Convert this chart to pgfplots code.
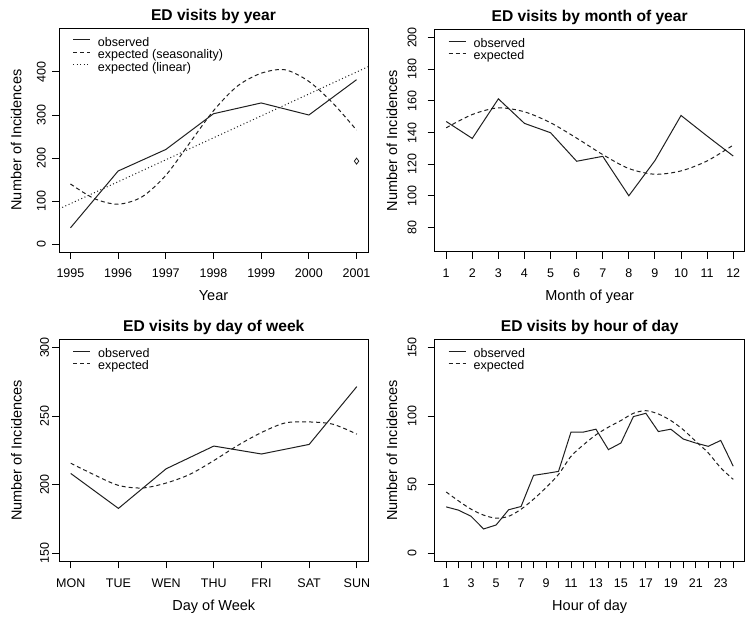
\documentclass[border=0pt]{standalone}
\usepackage{pgfplots}
\pgfplotsset{compat=1.18}
\usepackage{fontspec}
\setmainfont{Liberation Sans}
\newcommand\tickfont{\fontsize{12.5}{14}\selectfont}
\newcommand\labfont{\fontsize{14.5}{17}\selectfont}
\newcommand\titfont{\fontsize{15.6}{18}\selectfont\bfseries}
\newcommand\legfont{\fontsize{12.5}{14}\selectfont}
\pgfplotsset{
  rplot/.style={
    scale only axis,
    anchor=south west,
    every axis plot/.append style={line width=1pt, black!88},
    axis line style={line width=0.9pt, black},
    tick style={line width=0.9pt, black},
    tick align=outside, major tick length=7pt,
    tick pos=left,
    minor tick num=0,
    scaled ticks=false,
    /pgf/number format/assume math mode=true,
    /pgf/number format/1000 sep={},
    ticklabel style={font=\tickfont},
    xticklabel style={anchor=base, inner sep=0pt, yshift=-19pt},
    every axis x label/.style={at={(axis description cs:0.5,0)}, anchor=base, yshift=-48.7pt, font=\labfont},
    every axis y label/.style={at={(axis description cs:0,0.5)}, xshift=-37.7pt, rotate=90, anchor=base, font=\labfont},
    every axis title/.style={at={(axis description cs:0.5,1)}, anchor=base, yshift=7.5pt, font=\titfont},
    legend style={draw=none, fill=none, at={(axis description cs:0,1)}, anchor=north west, xshift=13.5pt, yshift=-9pt, font=\legfont, inner sep=0pt, outer sep=0pt, row sep=0pt, nodes={inner sep=0pt, text height=9pt, text depth=3.5pt}},
    legend cell align=left,
    legend image code/.code={\draw[##1] (0pt,3.3pt) -- (17pt,3.3pt); \path (24.4pt,3.3pt);},
  },
  dashr/.style={dash pattern=on 4pt off 3pt},
  dotr/.style={dash pattern=on 1pt off 2.5pt},
}
\begin{document}
\begin{tikzpicture}
\useasboundingbox (0,0) rectangle (754pt,624pt);
% ---------------- top left
\begin{axis}[rplot, at={(59pt,372pt)}, width=309pt, height=224pt,
  xmin=1994.76, xmax=2001.24, ymin=-18, ymax=502,
  xtick={1995,...,2001}, ytick={0,100,...,400},
  yticklabel style={xshift=-6.5pt, rotate=90, anchor=base, inner sep=0pt},
  title={ED visits by year}, xlabel={Year}, ylabel={Number of Incidences}]
\addplot[sharp plot] coordinates {(1995,38) (1996,170) (1997,220) (1998,303) (1999,328) (2000,300) (2001,382)};
\addlegendentry{observed}
\addplot[smooth, dashr] coordinates {(1995,140) (1995.5,106) (1996,93) (1996.5,110) (1997,160) (1997.5,235) (1998,310) (1998.5,367) (1999,397) (1999.5,405) (2000,378) (2000.5,328) (2001,265)};
\addlegendentry{expected (seasonality)}
\addplot[sharp plot, dotr] coordinates {(1994.76,82) (2001.24,412)};
\addlegendentry{expected (linear)}
\addplot[only marks, mark=diamond, mark size=3pt, mark options={solid, line width=0.8pt}, forget plot] coordinates {(2001,193)};
\end{axis}
% ---------------- top right
\begin{axis}[rplot, at={(434.7pt,372.3pt)}, width=310pt, height=222.4pt,
  xmin=0.56, xmax=12.44, ymin=64.8, ymax=205.2,
  xtick={1,...,12}, ytick={80,100,...,200},
  yticklabel style={xshift=-11.3pt, rotate=90, anchor=base, inner sep=0pt},
  title={ED visits by month of year}, xlabel={Month of year}, ylabel={Number of Incidences}]
\addplot[sharp plot] coordinates {(1,147) (2,136.3) (3,161.3) (4,145.8) (5,139.9) (6,121.9) (7,125) (8,100.1) (9,122.3) (10,150.8) (11,137.8) (12,125.2)};
\addlegendentry{observed}
\addplot[smooth, dashr] coordinates {(1,143) (2,151.4) (3,155.6) (4,153.1) (5,146.2) (6,136.5) (7,126.1) (8,117.3) (9,113.7) (10,115.8) (11,122.1) (12,132.1)};
\addlegendentry{expected}
\end{axis}
% ---------------- bottom left
\begin{axis}[rplot, at={(59.3pt,62.7pt)}, width=309pt, height=222pt,
  xmin=0.76, xmax=7.24, ymin=144, ymax=306,
  xtick={1,...,7}, xticklabels={MON,TUE,WEN,THU,FRI,SAT,SUN}, ytick={150,200,250,300},
  yticklabel style={xshift=-3.5pt, rotate=90, anchor=base, inner sep=0pt},
  title={ED visits by day of week}, xlabel={Day of Week}, ylabel={Number of Incidences}]
\addplot[sharp plot] coordinates {(1,208.1) (2,182.6) (3,211.5) (4,228.1) (5,222.3) (6,229.3) (7,271.5)};
\addlegendentry{observed}
\addplot[smooth, dashr] coordinates {(1,215.6) (1.5,207) (2,199.4) (2.5,197.5) (3,201.1) (3.5,207.5) (4,217.5) (4.5,228.5) (5,238) (5.5,245) (6,245.7) (6.5,244) (7,236.8)};
\addlegendentry{expected}
\end{axis}
% ---------------- bottom right
\begin{axis}[rplot, at={(434.7pt,62.7pt)}, width=310pt, height=222pt,
  xmin=0.08, xmax=24.92, ymin=-6, ymax=156,
  xtick={1,...,24}, xticklabels={1,,3,,5,,7,,9,,11,,13,,15,,17,,19,,21,,23,}, ytick={0,50,100,150},
  yticklabel style={xshift=-11.3pt, rotate=90, anchor=base, inner sep=0pt},
  title={ED visits by hour of day}, xlabel={Hour of day}, ylabel={Number of Incidences}]
\addplot[sharp plot] coordinates {(1,33.7) (2,31.3) (3,26.8) (4,17.6) (5,20.5) (6,31.6) (7,34) (8,56.7) (9,58.1) (10,59.6) (11,88.3) (12,88.3) (13,90.4) (14,75.5) (15,80.3) (16,99.6) (17,102) (18,88.7) (19,90.4) (20,83.2) (21,80.3) (22,77.9) (23,82.2) (24,63.4)};
\addlegendentry{observed}
\addplot[smooth, dashr] coordinates {(1,44.6) (2,38) (3,32) (4,27.7) (5,25.5) (6,26.8) (7,32) (8,39.3) (9,47.8) (10,57.4) (11,70.6) (12,79) (13,86.3) (14,91.9) (15,96.7) (16,102) (17,103.9) (18,101.5) (19,96.7) (20,90) (21,81.5) (22,73.1) (23,62.2) (24,53.8)};
\addlegendentry{expected}
\end{axis}
\end{tikzpicture}
\end{document}
